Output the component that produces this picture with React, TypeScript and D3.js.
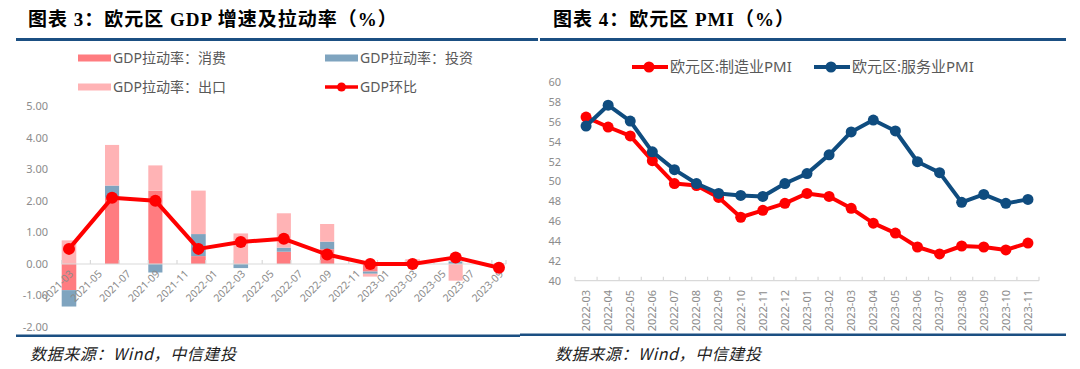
import React, { useEffect, useRef } from 'react';
import * as d3 from 'd3';

// left chart: quarterly GDP contributions (%)
const quarters = ['2021-03', '2021-06', '2021-09', '2021-12', '2022-03', '2022-06', '2022-09', '2022-12', '2023-03', '2023-06', '2023-09'];
const consumption = [-0.83, 2.10, 2.33, 0.25, 0.02, 0.39, 0.47, -0.24, 0.00, 0.00, 0.00];
const investment = [-0.52, 0.39, -0.27, 0.70, -0.13, 0.13, 0.24, -0.07, 0.00, 0.08, 0.00];
const exportsPull = [0.75, 1.29, 0.80, 1.38, 0.95, 1.09, 0.56, -0.09, 0.15, -0.53, 0.00];
const gdpQoq = [0.48, 2.10, 2.01, 0.48, 0.70, 0.80, 0.30, 0.00, 0.00, 0.21, -0.12];
const gdpTickLabels = ['2021-03', '2021-05', '2021-07', '2021-09', '2021-11', '2022-01', '2022-03', '2022-05', '2022-07', '2022-09', '2022-11', '2023-01', '2023-03', '2023-05', '2023-07', '2023-09'];
const gdpYTicks = [5, 4, 3, 2, 1, 0, -1, -2];

// right chart: monthly PMI
const pmiMonths = ['2022-03', '2022-04', '2022-05', '2022-06', '2022-07', '2022-08', '2022-09', '2022-10', '2022-11', '2022-12', '2023-01', '2023-02', '2023-03', '2023-04', '2023-05', '2023-06', '2023-07', '2023-08', '2023-09', '2023-10', '2023-11'];
const manufacturing = [56.5, 55.5, 54.6, 52.1, 49.8, 49.6, 48.4, 46.4, 47.1, 47.8, 48.8, 48.5, 47.3, 45.8, 44.8, 43.4, 42.7, 43.5, 43.4, 43.1, 43.8];
const services = [55.6, 57.7, 56.1, 53.0, 51.2, 49.8, 48.8, 48.6, 48.5, 49.8, 50.8, 52.7, 55.0, 56.2, 55.1, 52.0, 50.9, 47.9, 48.7, 47.8, 48.2];
const pmiYTicks = [60, 58, 56, 54, 52, 50, 48, 46, 44, 42, 40];

const W = 1080;
const H = 369;
const NAVY = '#1b4f82';
const C_CONS = '#ff7c80';
const C_INV = '#7fa4bf';
const C_EXP = '#ffb3b5';
const C_RED = '#ff0000';
const C_BLUE = '#0f4c7f';
const AXIS = '#d9d9d9';
const LABEL = '#8c8c8c';
const LEGEND = '#595959';
const SANS = "'Noto Sans', 'Noto Sans CJK SC', sans-serif";
const TITLE = "'Liberation Serif', 'Noto Sans CJK SC', serif";

const parseMonth = d3.timeParse('%Y-%m');

function App() {
  const ref = useRef<SVGSVGElement>(null);

  useEffect(() => {
    const svg = d3.select(ref.current);
    svg.selectAll('*').remove();

    // titles and rules
    const titles = [
      { text: '图表 3：欧元区 GDP 增速及拉动率（%）', x: 28 },
      { text: '图表 4：欧元区 PMI（%）', x: 553 },
    ];
    titles.forEach((t) => {
      svg.append('text').attr('x', t.x).attr('y', 26)
        .style('font-family', TITLE).style('font-size', '19px').style('font-weight', 'bold')
        .style('letter-spacing', '1px')
        .attr('fill', '#000').text(t.text);
    });
    svg.append('rect').attr('x', 16).attr('y', 38).attr('width', 522).attr('height', 3).attr('fill', NAVY);
    svg.append('rect').attr('x', 540).attr('y', 38).attr('width', 526).attr('height', 3).attr('fill', NAVY);
    svg.append('rect').attr('x', 16).attr('y', 334.5).attr('width', 504).attr('height', 2.5).attr('fill', NAVY);
    svg.append('rect').attr('x', 520).attr('y', 333.5).attr('width', 546).attr('height', 2.5).attr('fill', NAVY);

    [30, 555].forEach((x) => {
      svg.append('text').attr('x', x).attr('y', 360)
        .style('font-family', "'Noto Sans CJK SC', sans-serif").style('font-size', '16px').style('font-style', 'italic')
        .style('letter-spacing', '0.6px')
        .attr('fill', '#222').text('数据来源：Wind，中信建投');
    });

    // ---------- left chart ----------
    const g1 = svg.append('g');
    const x = d3.scaleTime()
      .domain([parseMonth('2021-03') as Date, parseMonth('2023-10') as Date])
      .range([61.7, 506]);
    const y = d3.scaleLinear().domain([-2, 5]).range([327, 106.5]);
    const slot = (s: string) => {
      const d = parseMonth(s) as Date;
      return [x(d), x(d3.timeMonth.offset(d, 1))];
    };

    // legend
    const leg1 = [
      { label: 'GDP拉动率：消费', color: C_CONS, x: 78, y: 58 },
      { label: 'GDP拉动率：投资', color: C_INV, x: 325, y: 58 },
      { label: 'GDP拉动率：出口', color: C_EXP, x: 78, y: 87 },
    ];
    leg1.forEach((l) => {
      g1.append('rect').attr('x', l.x).attr('y', l.y - 3.5).attr('width', 33).attr('height', 7).attr('fill', l.color);
      g1.append('text').attr('x', l.x + 35).attr('y', l.y).attr('dy', '0.35em')
        .style('font-family', SANS).style('font-size', '14px').attr('fill', LEGEND).text(l.label);
    });
    g1.append('line').attr('x1', 325).attr('x2', 358).attr('y1', 87).attr('y2', 87)
      .attr('stroke', C_RED).attr('stroke-width', 3.5);
    g1.append('circle').attr('cx', 341.5).attr('cy', 87).attr('r', 4.5).attr('fill', C_RED);
    g1.append('text').attr('x', 360).attr('y', 87).attr('dy', '0.35em')
      .style('font-family', SANS).style('font-size', '14px').attr('fill', LEGEND).text('GDP环比');

    // y labels
    g1.selectAll('.ylab').data(gdpYTicks).enter().append('text')
      .attr('x', 48).attr('y', (d) => y(d)).attr('dy', '0.35em').attr('text-anchor', 'end')
      .style('font-family', SANS).style('font-size', '11px').attr('fill', LABEL)
      .text((d) => d.toFixed(2));

    // stacked bars
    const series = [
      { values: consumption, color: C_CONS },
      { values: investment, color: C_INV },
      { values: exportsPull, color: C_EXP },
    ];
    quarters.forEach((q, i) => {
      const [x0, x1] = slot(q);
      let pos = 0;
      let neg = 0;
      series.forEach((s) => {
        const v = s.values[i];
        if (v === 0) return;
        let top;
        let bottom;
        if (v > 0) { top = pos + v; bottom = pos; pos += v; } else { top = neg; bottom = neg + v; neg += v; }
        g1.append('rect').attr('x', x0).attr('width', x1 - x0)
          .attr('y', y(top)).attr('height', y(bottom) - y(top)).attr('fill', s.color);
      });
    });

    // x axis
    g1.append('line').attr('x1', 61.7).attr('x2', 506).attr('y1', y(0)).attr('y2', y(0))
      .attr('stroke', AXIS).attr('stroke-width', 1.2);
    const tickX = gdpTickLabels.map((t) => slot(t)[0]).concat([506]);
    g1.selectAll('.xtick').data(tickX).enter().append('line')
      .attr('x1', (d) => d).attr('x2', (d) => d).attr('y1', y(0) - 4).attr('y2', y(0))
      .attr('stroke', AXIS).attr('stroke-width', 1.2);
    g1.selectAll('.xlab').data(gdpTickLabels).enter().append('text')
      .attr('transform', (d) => {
        const [a, b] = slot(d);
        return `translate(${(a + b) / 2 + 2.5},272) rotate(-45)`;
      })
      .attr('dy', '0.35em').attr('text-anchor', 'end')
      .style('font-family', SANS).style('font-size', '10.5px').attr('fill', LABEL)
      .text((d) => d);

    // GDP line
    const qx = quarters.map((q) => { const [a, b] = slot(q); return (a + b) / 2; });
    const gdpLine = d3.line<number>().x((d, i) => qx[i]).y((d) => y(d));
    g1.append('path').attr('d', gdpLine(gdpQoq)).attr('fill', 'none')
      .attr('stroke', C_RED).attr('stroke-width', 4).attr('stroke-linejoin', 'round');
    g1.selectAll('.gdpdot').data(gdpQoq).enter().append('circle')
      .attr('cx', (d, i) => qx[i]).attr('cy', (d) => y(d)).attr('r', 6).attr('fill', C_RED);

    // ---------- right chart ----------
    const g2 = svg.append('g');
    const xb = d3.scaleBand().domain(pmiMonths).range([575, 1039]);
    const yp = d3.scaleLinear().domain([40, 60]).range([280.7, 82.4]);

    const leg2 = [
      { label: '欧元区:制造业PMI', color: C_RED, x: 632 },
      { label: '欧元区:服务业PMI', color: C_BLUE, x: 814 },
    ];
    leg2.forEach((l) => {
      g2.append('line').attr('x1', l.x).attr('x2', l.x + 36).attr('y1', 67).attr('y2', 67)
        .attr('stroke', l.color).attr('stroke-width', 4);
      g2.append('circle').attr('cx', l.x + 17).attr('cy', 67).attr('r', 5.5).attr('fill', l.color);
      g2.append('text').attr('x', l.x + 38).attr('y', 67).attr('dy', '0.35em')
        .style('font-family', SANS).style('font-size', '15px').attr('fill', LEGEND).text(l.label);
    });

    g2.selectAll('.ylab').data(pmiYTicks).enter().append('text')
      .attr('x', 561).attr('y', (d) => yp(d)).attr('dy', '0.35em').attr('text-anchor', 'end')
      .style('font-family', SANS).style('font-size', '11px').attr('fill', LABEL)
      .text((d) => d);

    g2.append('line').attr('x1', 575).attr('x2', 1039).attr('y1', yp(40)).attr('y2', yp(40))
      .attr('stroke', AXIS).attr('stroke-width', 1.2);
    const bTicks = pmiMonths.map((m) => xb(m) as number).concat([1039]);
    g2.selectAll('.xtick').data(bTicks).enter().append('line')
      .attr('x1', (d) => d).attr('x2', (d) => d).attr('y1', yp(40) - 4).attr('y2', yp(40))
      .attr('stroke', AXIS).attr('stroke-width', 1.2);
    g2.selectAll('.xlab').data(pmiMonths).enter().append('text')
      .attr('transform', (d) => `translate(${(xb(d) as number) + xb.bandwidth() / 2},290) rotate(-90)`)
      .attr('dy', '0.35em').attr('text-anchor', 'end')
      .style('font-family', SANS).style('font-size', '11px').attr('fill', LABEL)
      .text((d) => d);

    const cx = (i: number) => (xb(pmiMonths[i]) as number) + xb.bandwidth() / 2;
    const pmiLine = d3.line<number>().x((d, i) => cx(i)).y((d) => yp(d));
    [{ values: manufacturing, color: C_RED }, { values: services, color: C_BLUE }].forEach((s) => {
      g2.append('path').attr('d', pmiLine(s.values)).attr('fill', 'none')
        .attr('stroke', s.color).attr('stroke-width', 4).attr('stroke-linejoin', 'round');
      g2.selectAll(null).data(s.values).enter().append('circle')
        .attr('cx', (d, i) => cx(i)).attr('cy', (d) => yp(d)).attr('r', 5.5).attr('fill', s.color);
    });
  }, []);

  return (
    <svg ref={ref} width={W} height={H} style={{ position: 'absolute', left: 0, top: 0, background: '#fff' }} />
  );
}

export default App;
